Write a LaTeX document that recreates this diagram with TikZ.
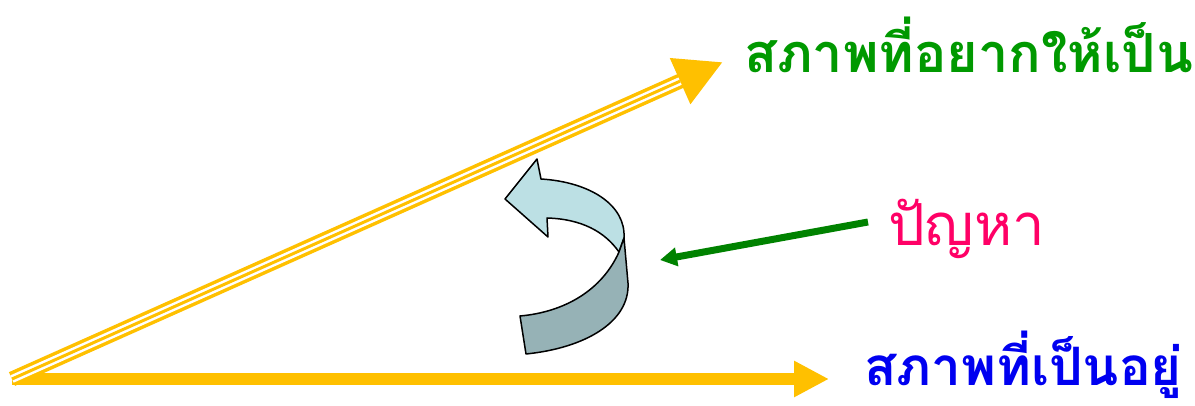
\documentclass[tikz,border=0pt]{standalone}
\usepackage{fontspec}
\newfontfamily\thaifont[Script=Thai]{Loma}
\usetikzlibrary{arrows.meta}
\definecolor{gold}{HTML}{FFC000}
\definecolor{wantgreen}{HTML}{009900}
\definecolor{nowblue}{HTML}{0000F0}
\definecolor{probpink}{HTML}{FF0066}
\definecolor{ribbonlight}{HTML}{BCE0E4}
\definecolor{ribbondark}{HTML}{96B2B6}

\begin{document}
\begin{tikzpicture}[x=1pt, y=-1pt,
  label/.style={anchor=base west, inner sep=0pt},
  ribbon/.style={draw=black, line width=1.5pt, line join=round}]

\useasboundingbox (0,0) rectangle (1195,406);

\coordinate (o) at (12,379);
\coordinate (now) at (829,379);
\coordinate (want) at (723,62);
\coordinate (p) at (660,260);

\node (wantlbl) at (744,73) [label, font=\thaifont\bfseries\fontsize{54}{60}\selectfont, text=wantgreen] {สภาพที่อยากให้เป็น};
\node (nowlbl) at (864,385) [label, font=\thaifont\bfseries\fontsize{53}{60}\selectfont, text=nowblue] {สภาพที่เป็นอยู่};
\node (problbl) at (888,246) [label, font=\thaifont\fontsize{58}{64}\selectfont, text=probpink] {ปัญหา};
\coordinate (probstart) at (868,222);

% current state
\draw[gold, line width=12pt, -{Triangle[length=35pt, width=34pt]}] (o) -- (now);

% desired state, triple line
\draw[gold, line width=15pt, -{Triangle[length=47pt, width=47pt]}] (o) -- (want);
\draw[white, line width=8pt, shorten >=47pt] (o) -- (want);
\draw[gold, line width=3pt, shorten >=47pt] (o) -- (want);

% curved ribbon
\draw[ribbon, fill=ribbonlight] (505,199) -- (537,159) -- (541,179)
  .. controls (590,182) and (626,205) .. (624,238) -- (619,252)
  .. controls (605,232) and (582,219) .. (547,218) -- (548,237) -- cycle;
\draw[ribbon, fill=ribbondark] (619,252)
  .. controls (602,290) and (565,312) .. (520,316) -- (526,354)
  .. controls (585,348) and (630,322) .. (628,283) -- (624,238) -- cycle;

\draw[wantgreen!85!black, line width=7pt, -{Triangle[length=17pt, width=18pt]}] (probstart) -- (p);

\end{tikzpicture}
\end{document}
